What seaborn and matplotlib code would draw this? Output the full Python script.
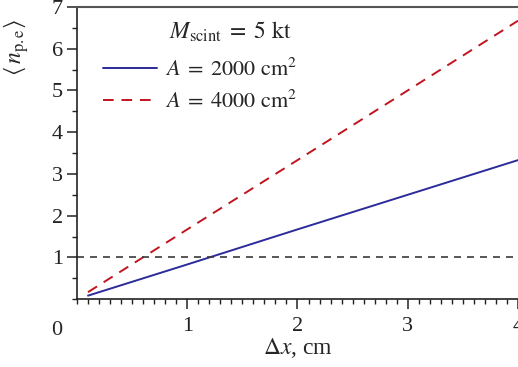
import matplotlib
matplotlib.use("Agg")
import matplotlib.pyplot as plt
import seaborn as sns
import pandas as pd
import numpy as np
from matplotlib.ticker import MultipleLocator

dx = [0.1, 1.0, 2.0, 3.0, 4.0]
npe_2000 = [0.083, 0.83, 1.67, 2.5, 3.33]
npe_4000 = [0.167, 1.67, 3.33, 5.0, 6.67]
labels = [r"$A\;=\;2000\ \mathrm{cm}^2$", r"$A\;=\;4000\ \mathrm{cm}^2$"]
legend_title = r"$M_{\mathrm{scint}}\;=\;5\ \mathrm{kt}$"
threshold = 1.0

sns.set_theme(style="ticks")
plt.rcParams["font.family"] = ["Liberation Serif", "DejaVu Serif"]
plt.rcParams["mathtext.fontset"] = "stix"

df = pd.DataFrame({
    "dx": dx * 2,
    "npe": npe_2000 + npe_4000,
    "series": [labels[0]] * len(dx) + [labels[1]] * len(dx),
})

fig = plt.figure(figsize=(5.18, 3.67), dpi=100)
ax = fig.add_axes([0.1486, 0.185, 0.8514, 0.796])

sns.lineplot(data=df, x="dx", y="npe", hue="series", style="series",
             palette={labels[0]: "#2b2b9a", labels[1]: "#c0141e"},
             dashes={labels[0]: "", labels[1]: (5.5, 4)},
             linewidth=1.4, ax=ax)
ax.axhline(threshold, color="#3a3a3a", linestyle=(0, (4.2, 3.6)), linewidth=1.2)

ax.set_xlim(0, 4)
ax.set_ylim(0, 7)
ax.xaxis.set_minor_locator(MultipleLocator(0.1))
ax.yaxis.set_minor_locator(MultipleLocator(0.5))
ax.set_yticks([1, 2, 3, 4, 5, 6, 7])
ax.set_xticks([1, 2, 3, 4])
ax.tick_params(which="major", direction="out", length=7, width=1.1, labelsize=16, colors="#222222")
ax.tick_params(axis="y", which="major", pad=3)
ax.tick_params(axis="x", which="major", pad=6)
ax.tick_params(which="minor", direction="out", length=3.6, width=1.0, colors="#222222")

for s in ["left", "bottom"]:
    ax.spines[s].set_color("#222222")
    ax.spines[s].set_linewidth(1.2)
ax.spines["top"].set_color("#555555")
ax.spines["top"].set_linewidth(1.5)
ax.spines["right"].set_visible(False)

ax.set_xlabel(r"$\Delta x$, cm", fontsize=17, labelpad=0)
ax.set_ylabel(r"$\langle\, n_{\mathrm{p.e}} \rangle$", fontsize=17)
ax.yaxis.set_label_coords(-0.105, 0.86)
ax.text(-0.045, -0.075, "0", transform=ax.transAxes, fontsize=16, ha="center", va="top")

# legend title placed as free text (offset to the right as in the reference)
fig.text(230 / 518, 1 - 32 / 367, legend_title, fontsize=17, ha="center", va="center")

handles, lbls = ax.get_legend_handles_labels()
leg = ax.legend(handles, lbls, loc="upper left",
                bbox_to_anchor=(0.038, 0.855), frameon=False, fontsize=16,
                handlelength=2.45, handletextpad=0.36,
                labelspacing=0.45, borderaxespad=0)

fig.savefig("out.png", dpi=100)
